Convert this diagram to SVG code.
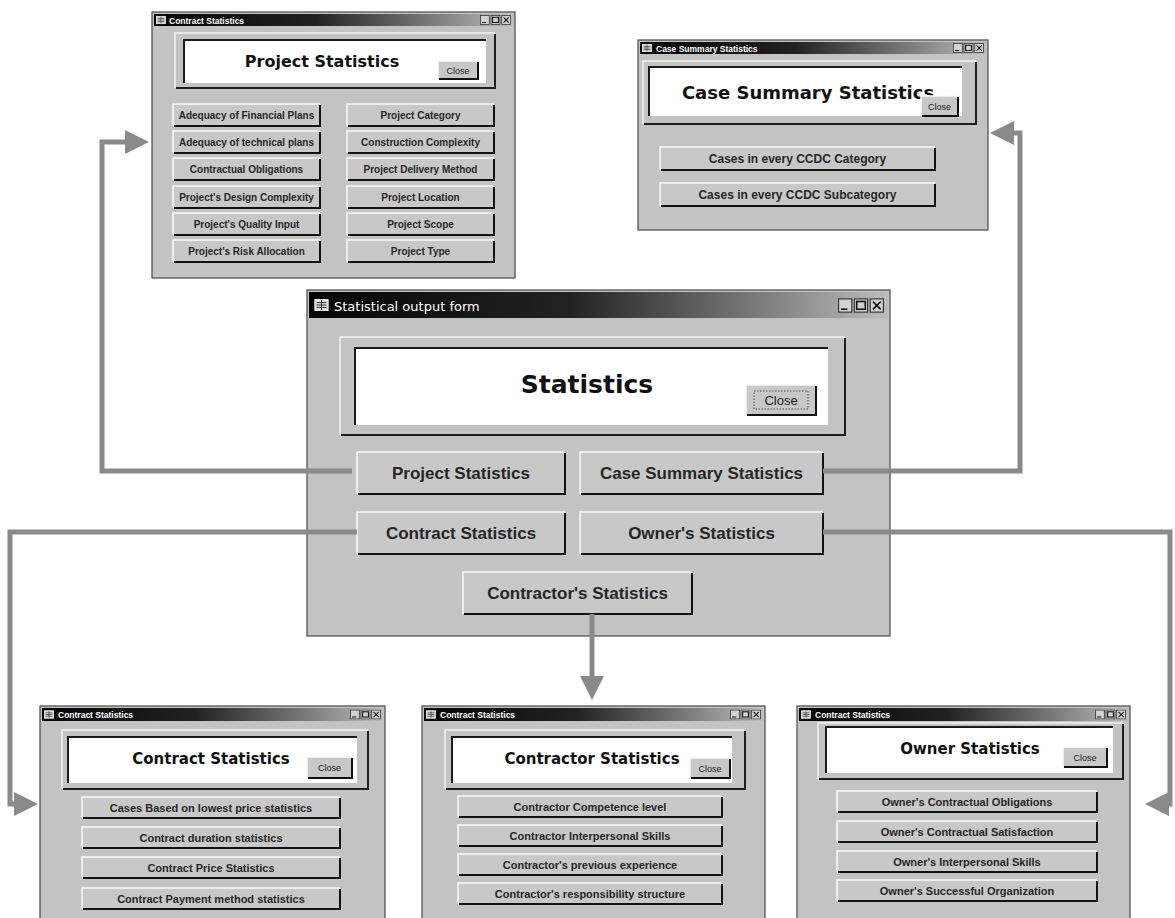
<svg xmlns="http://www.w3.org/2000/svg" xmlns:xlink="http://www.w3.org/1999/xlink" width="1175" height="918" viewBox="0 0 1175 918">
  <defs>
    <linearGradient id="tg" x1="0" y1="0" x2="1" y2="0">
      <stop offset="0" stop-color="#050505"/>
      <stop offset="0.45" stop-color="#222"/>
      <stop offset="0.78" stop-color="#7c7c7c"/>
      <stop offset="1" stop-color="#bcbcbc"/>
    </linearGradient>
    <marker id="ah" markerUnits="userSpaceOnUse" markerWidth="24" markerHeight="24" viewBox="0 0 24 24" refX="0" refY="12" orient="auto">
      <path d="M0,0 L24,12 L0,24 Z" fill="#8a8a8a"/>
    </marker>
    <!-- minimise / maximise / close boxes of a title bar -->
    <symbol id="ctls" viewBox="0 0 32 10">
      <rect class="ctl" x="0.4" y="0.4" width="9.2" height="9.2"/>
      <path class="cg" d="M2,7.6 H6.5"/>
      <rect class="ctl" x="11.4" y="0.4" width="9.2" height="9.2"/>
      <rect class="cg" x="13" y="2.2" width="6" height="5.4"/>
      <rect class="ctl" x="22.4" y="0.4" width="9.2" height="9.2"/>
      <path class="cg" d="M24.3,2.3 L29.7,7.7 M29.7,2.3 L24.3,7.7"/>
    </symbol>
    <!-- form icon at the left of a title bar -->
    <symbol id="ico" viewBox="0 0 12 10">
      <rect x="0.5" y="0.5" width="11" height="9" fill="#d8d8d8" stroke="#fff" stroke-width="0.8"/>
      <path d="M2,3 H10 M2,5 H10 M2,7 H10 M6,1 V9" stroke="#333" stroke-width="0.8"/>
    </symbol>
  </defs>
  <style>
    .body{fill:#c3c3c3;stroke:#4a4a4a;stroke-width:1.2}
    .tbar{fill:url(#tg)}
    .ttl{font-family:"Liberation Sans",Arial,sans-serif;font-weight:bold;fill:#fff}
    .ttlc{font-family:"DejaVu Sans",Verdana,sans-serif;fill:#fff}
    .ctl{fill:#d2d2d2;stroke:#333;stroke-width:0.8}
    .cg{fill:none;stroke:#111;stroke-width:1.1}
    .fhl{fill:none;stroke:#f3f3f3;stroke-width:1.5}
    .fsh{fill:none;stroke:#1e1e1e;stroke-width:2}
    .hdr{fill:#fff}
    .hsh{fill:none;stroke:#1a1a1a;stroke-width:2}
    .htxt{font-family:"DejaVu Sans",Verdana,sans-serif;font-weight:bold;fill:#111;text-anchor:middle}
    .bf{fill:#c8c8c8}
    .bhl{fill:none;stroke:#fafafa;stroke-width:1.5}
    .bsh{fill:none;stroke:#111;stroke-width:2}
    .bl{font-family:"Liberation Sans",Arial,sans-serif;font-weight:bold;fill:#262626;text-anchor:middle}
    .cl{font-family:"Liberation Sans",Arial,sans-serif;fill:#222;text-anchor:middle}
    .focus{fill:none;stroke:#333;stroke-width:0.8;stroke-dasharray:1.5 1.5}
    .conn{fill:none;stroke:#8a8a8a;stroke-width:5;stroke-linejoin:miter;marker-end:url(#ah)}
  </style>

  <rect x="0" y="0" width="1175" height="918" fill="#fff"/>

  <!-- main statistics form -->
  <g id="statistical-output-form">
    <rect class="body" x="307" y="290" width="583" height="346"/>
    <rect class="tbar" x="309" y="292" width="579" height="26"/>
    <use href="#ico" x="314" y="299" width="15" height="12"/>
    <text class="ttlc" x="334" y="311" font-size="13">Statistical output form</text>
    <use href="#ctls" x="838" y="298" width="46" height="15"/>
    <g transform="translate(340,337)">
      <path class="fhl" d="M0,98 V0 H505"/>
      <path class="fsh" d="M1,98 H505 V1"/>
      <rect class="hdr" x="15" y="11" width="473" height="77"/>
      <path class="hsh" d="M15,88 V11 H488"/>
    </g>
    <text class="htxt" x="587" y="393" font-size="25">Statistics</text>
    <g transform="translate(746,385)">
      <rect class="bf" width="70" height="30"/>
      <path class="bhl" d="M0,30 V0 H70"/>
      <path class="bsh" d="M1,30 H70 V1"/>
      <rect class="focus" x="8" y="6" width="54" height="18"/>
      <text class="cl" x="35" y="20" font-size="13">Close</text>
    </g>
    <g transform="translate(357,452)">
      <rect class="bf" width="208" height="42"/>
      <path class="bhl" d="M0,42 V0 H208"/>
      <path class="bsh" d="M1,42 H208 V1"/>
      <text class="bl" x="104" y="27" font-size="17">Project Statistics</text>
    </g>
    <g transform="translate(580,452)">
      <rect class="bf" width="243" height="42"/>
      <path class="bhl" d="M0,42 V0 H243"/>
      <path class="bsh" d="M1,42 H243 V1"/>
      <text class="bl" x="121.5" y="27" font-size="17">Case Summary Statistics</text>
    </g>
    <g transform="translate(357,512)">
      <rect class="bf" width="208" height="42"/>
      <path class="bhl" d="M0,42 V0 H208"/>
      <path class="bsh" d="M1,42 H208 V1"/>
      <text class="bl" x="104" y="27" font-size="17">Contract Statistics</text>
    </g>
    <g transform="translate(580,512)">
      <rect class="bf" width="243" height="42"/>
      <path class="bhl" d="M0,42 V0 H243"/>
      <path class="bsh" d="M1,42 H243 V1"/>
      <text class="bl" x="121.5" y="27" font-size="17">Owner's Statistics</text>
    </g>
    <g transform="translate(463,572)">
      <rect class="bf" width="229" height="42"/>
      <path class="bhl" d="M0,42 V0 H229"/>
      <path class="bsh" d="M1,42 H229 V1"/>
      <text class="bl" x="114.5" y="27" font-size="17">Contractor's Statistics</text>
    </g>
  </g>

  <!-- project statistics form -->
  <g id="project-statistics">
    <rect class="body" x="152" y="12" width="363" height="266"/>
    <rect class="tbar" x="154" y="14" width="359" height="12"/>
    <use href="#ico" x="156" y="15.5" width="10" height="9"/>
    <text class="ttl" x="169" y="23.5" font-size="8.5">Contract Statistics</text>
    <use href="#ctls" x="480" y="15" width="31" height="10"/>
    <g transform="translate(175,33)">
      <path class="fhl" d="M0,55 V0 H320"/>
      <path class="fsh" d="M1,55 H320 V1"/>
      <rect class="hdr" x="9" y="7" width="302" height="43"/>
      <path class="hsh" d="M9,50 V7 H311"/>
    </g>
    <text class="htxt" x="322" y="67" font-size="16">Project Statistics</text>
    <g transform="translate(438,61)">
      <rect class="bf" width="40" height="18"/>
      <path class="bhl" d="M0,18 V0 H40"/>
      <path class="bsh" d="M1,18 H40 V1"/>
      <text class="cl" x="20" y="12.5" font-size="9">Close</text>
    </g>
    <g transform="translate(173,104)">
      <rect class="bf" width="147" height="22"/>
      <path class="bhl" d="M0,22 V0 H147"/>
      <path class="bsh" d="M1,22 H147 V1"/>
      <text class="bl" x="73.5" y="15" font-size="10">Adequacy of Financial Plans</text>
    </g>
    <g transform="translate(173,131)">
      <rect class="bf" width="147" height="22"/>
      <path class="bhl" d="M0,22 V0 H147"/>
      <path class="bsh" d="M1,22 H147 V1"/>
      <text class="bl" x="73.5" y="15" font-size="10">Adequacy of technical plans</text>
    </g>
    <g transform="translate(173,158)">
      <rect class="bf" width="147" height="22"/>
      <path class="bhl" d="M0,22 V0 H147"/>
      <path class="bsh" d="M1,22 H147 V1"/>
      <text class="bl" x="73.5" y="15" font-size="10">Contractual Obligations</text>
    </g>
    <g transform="translate(173,186)">
      <rect class="bf" width="147" height="22"/>
      <path class="bhl" d="M0,22 V0 H147"/>
      <path class="bsh" d="M1,22 H147 V1"/>
      <text class="bl" x="73.5" y="15" font-size="10">Project's Design Complexity</text>
    </g>
    <g transform="translate(173,213)">
      <rect class="bf" width="147" height="22"/>
      <path class="bhl" d="M0,22 V0 H147"/>
      <path class="bsh" d="M1,22 H147 V1"/>
      <text class="bl" x="73.5" y="15" font-size="10">Project's Quality Input</text>
    </g>
    <g transform="translate(173,240)">
      <rect class="bf" width="147" height="22"/>
      <path class="bhl" d="M0,22 V0 H147"/>
      <path class="bsh" d="M1,22 H147 V1"/>
      <text class="bl" x="73.5" y="15" font-size="10">Project's Risk Allocation</text>
    </g>
    <g transform="translate(347,104)">
      <rect class="bf" width="147" height="22"/>
      <path class="bhl" d="M0,22 V0 H147"/>
      <path class="bsh" d="M1,22 H147 V1"/>
      <text class="bl" x="73.5" y="15" font-size="10">Project Category</text>
    </g>
    <g transform="translate(347,131)">
      <rect class="bf" width="147" height="22"/>
      <path class="bhl" d="M0,22 V0 H147"/>
      <path class="bsh" d="M1,22 H147 V1"/>
      <text class="bl" x="73.5" y="15" font-size="10">Construction Complexity</text>
    </g>
    <g transform="translate(347,158)">
      <rect class="bf" width="147" height="22"/>
      <path class="bhl" d="M0,22 V0 H147"/>
      <path class="bsh" d="M1,22 H147 V1"/>
      <text class="bl" x="73.5" y="15" font-size="10">Project Delivery Method</text>
    </g>
    <g transform="translate(347,186)">
      <rect class="bf" width="147" height="22"/>
      <path class="bhl" d="M0,22 V0 H147"/>
      <path class="bsh" d="M1,22 H147 V1"/>
      <text class="bl" x="73.5" y="15" font-size="10">Project Location</text>
    </g>
    <g transform="translate(347,213)">
      <rect class="bf" width="147" height="22"/>
      <path class="bhl" d="M0,22 V0 H147"/>
      <path class="bsh" d="M1,22 H147 V1"/>
      <text class="bl" x="73.5" y="15" font-size="10">Project Scope</text>
    </g>
    <g transform="translate(347,240)">
      <rect class="bf" width="147" height="22"/>
      <path class="bhl" d="M0,22 V0 H147"/>
      <path class="bsh" d="M1,22 H147 V1"/>
      <text class="bl" x="73.5" y="15" font-size="10">Project Type</text>
    </g>
  </g>

  <!-- case summary statistics form -->
  <g id="case-summary-statistics">
    <rect class="body" x="638" y="40" width="350" height="190"/>
    <rect class="tbar" x="640" y="42" width="346" height="12"/>
    <use href="#ico" x="642" y="43.5" width="10" height="9"/>
    <text class="ttl" x="656" y="51.5" font-size="8.5">Case Summary Statistics</text>
    <use href="#ctls" x="953" y="43" width="31" height="10"/>
    <g transform="translate(643,61)">
      <path class="fhl" d="M0,63 V0 H333"/>
      <path class="fsh" d="M1,63 H333 V1"/>
      <rect class="hdr" x="6" y="6" width="313" height="49"/>
      <path class="hsh" d="M6,55 V6 H319"/>
    </g>
    <text class="htxt" x="808" y="99" font-size="18">Case Summary Statistics</text>
    <g transform="translate(921,96)">
      <rect class="bf" width="37" height="20"/>
      <path class="bhl" d="M0,20 V0 H37"/>
      <path class="bsh" d="M1,20 H37 V1"/>
      <text class="cl" x="18.5" y="13.5" font-size="9">Close</text>
    </g>
    <g transform="translate(660,147)">
      <rect class="bf" width="275" height="23"/>
      <path class="bhl" d="M0,23 V0 H275"/>
      <path class="bsh" d="M1,23 H275 V1"/>
      <text class="bl" x="137.5" y="16" font-size="12">Cases in every CCDC Category</text>
    </g>
    <g transform="translate(660,183)">
      <rect class="bf" width="275" height="23"/>
      <path class="bhl" d="M0,23 V0 H275"/>
      <path class="bsh" d="M1,23 H275 V1"/>
      <text class="bl" x="137.5" y="16" font-size="12">Cases in every CCDC Subcategory</text>
    </g>
  </g>

  <!-- contract statistics form -->
  <g id="contract-statistics">
    <rect class="body" x="40" y="706" width="345" height="230"/>
    <rect class="tbar" x="42" y="708" width="341" height="13"/>
    <use href="#ico" x="44" y="710" width="10" height="9"/>
    <text class="ttl" x="58" y="718" font-size="8.5">Contract Statistics</text>
    <use href="#ctls" x="350" y="709.5" width="31" height="10"/>
    <g transform="translate(62,730)">
      <path class="fhl" d="M0,59 V0 H306"/>
      <path class="fsh" d="M1,59 H306 V1"/>
      <rect class="hdr" x="6" y="7" width="289" height="46"/>
      <path class="hsh" d="M6,53 V7 H295"/>
    </g>
    <text class="htxt" x="211" y="764" font-size="15">Contract Statistics</text>
    <g transform="translate(307,757)">
      <rect class="bf" width="45" height="21"/>
      <path class="bhl" d="M0,21 V0 H45"/>
      <path class="bsh" d="M1,21 H45 V1"/>
      <text class="cl" x="22.5" y="14" font-size="9">Close</text>
    </g>
    <g transform="translate(82,797)">
      <rect class="bf" width="258" height="21"/>
      <path class="bhl" d="M0,21 V0 H258"/>
      <path class="bsh" d="M1,21 H258 V1"/>
      <text class="bl" x="129" y="15" font-size="11">Cases Based on lowest price statistics</text>
    </g>
    <g transform="translate(82,827)">
      <rect class="bf" width="258" height="21"/>
      <path class="bhl" d="M0,21 V0 H258"/>
      <path class="bsh" d="M1,21 H258 V1"/>
      <text class="bl" x="129" y="15" font-size="11">Contract duration statistics</text>
    </g>
    <g transform="translate(82,857)">
      <rect class="bf" width="258" height="21"/>
      <path class="bhl" d="M0,21 V0 H258"/>
      <path class="bsh" d="M1,21 H258 V1"/>
      <text class="bl" x="129" y="15" font-size="11">Contract Price Statistics</text>
    </g>
    <g transform="translate(82,888)">
      <rect class="bf" width="258" height="21"/>
      <path class="bhl" d="M0,21 V0 H258"/>
      <path class="bsh" d="M1,21 H258 V1"/>
      <text class="bl" x="129" y="15" font-size="11">Contract Payment method statistics</text>
    </g>
  </g>

  <!-- contractor statistics form -->
  <g id="contractor-statistics">
    <rect class="body" x="422" y="706" width="343" height="230"/>
    <rect class="tbar" x="424" y="708" width="339" height="13"/>
    <use href="#ico" x="426" y="710" width="10" height="9"/>
    <text class="ttl" x="440" y="718" font-size="8.5">Contract Statistics</text>
    <use href="#ctls" x="730" y="709.5" width="31" height="10"/>
    <g transform="translate(445,730)">
      <path class="fhl" d="M0,59 V0 H300"/>
      <path class="fsh" d="M1,59 H300 V1"/>
      <rect class="hdr" x="7" y="7" width="280" height="46"/>
      <path class="hsh" d="M7,53 V7 H287"/>
    </g>
    <text class="htxt" x="592" y="764" font-size="15">Contractor Statistics</text>
    <g transform="translate(690,758)">
      <rect class="bf" width="40" height="20"/>
      <path class="bhl" d="M0,20 V0 H40"/>
      <path class="bsh" d="M1,20 H40 V1"/>
      <text class="cl" x="20" y="13.5" font-size="9">Close</text>
    </g>
    <g transform="translate(458,796)">
      <rect class="bf" width="264" height="21"/>
      <path class="bhl" d="M0,21 V0 H264"/>
      <path class="bsh" d="M1,21 H264 V1"/>
      <text class="bl" x="132" y="15" font-size="11">Contractor Competence level</text>
    </g>
    <g transform="translate(458,825)">
      <rect class="bf" width="264" height="21"/>
      <path class="bhl" d="M0,21 V0 H264"/>
      <path class="bsh" d="M1,21 H264 V1"/>
      <text class="bl" x="132" y="15" font-size="11">Contractor Interpersonal Skills</text>
    </g>
    <g transform="translate(458,854)">
      <rect class="bf" width="264" height="21"/>
      <path class="bhl" d="M0,21 V0 H264"/>
      <path class="bsh" d="M1,21 H264 V1"/>
      <text class="bl" x="132" y="15" font-size="11">Contractor's previous experience</text>
    </g>
    <g transform="translate(458,883)">
      <rect class="bf" width="264" height="21"/>
      <path class="bhl" d="M0,21 V0 H264"/>
      <path class="bsh" d="M1,21 H264 V1"/>
      <text class="bl" x="132" y="15" font-size="11">Contractor's responsibility structure</text>
    </g>
  </g>

  <!-- owner statistics form -->
  <g id="owner-statistics">
    <rect class="body" x="797" y="706" width="333" height="230"/>
    <rect class="tbar" x="799" y="708" width="329" height="13"/>
    <use href="#ico" x="801" y="710" width="10" height="9"/>
    <text class="ttl" x="815" y="718" font-size="8.5">Contract Statistics</text>
    <use href="#ctls" x="1095" y="709.5" width="31" height="10"/>
    <g transform="translate(818,723)">
      <path class="fhl" d="M0,56 V0 H305"/>
      <path class="fsh" d="M1,56 H305 V1"/>
      <rect class="hdr" x="8" y="4" width="287" height="46"/>
      <path class="hsh" d="M8,50 V4 H295"/>
    </g>
    <text class="htxt" x="970" y="754" font-size="15">Owner Statistics</text>
    <g transform="translate(1063,747)">
      <rect class="bf" width="44" height="20"/>
      <path class="bhl" d="M0,20 V0 H44"/>
      <path class="bsh" d="M1,20 H44 V1"/>
      <text class="cl" x="22" y="13.5" font-size="9">Close</text>
    </g>
    <g transform="translate(837,791)">
      <rect class="bf" width="260" height="21"/>
      <path class="bhl" d="M0,21 V0 H260"/>
      <path class="bsh" d="M1,21 H260 V1"/>
      <text class="bl" x="130" y="15" font-size="11">Owner's Contractual Obligations</text>
    </g>
    <g transform="translate(837,821)">
      <rect class="bf" width="260" height="21"/>
      <path class="bhl" d="M0,21 V0 H260"/>
      <path class="bsh" d="M1,21 H260 V1"/>
      <text class="bl" x="130" y="15" font-size="11">Owner's Contractual Satisfaction</text>
    </g>
    <g transform="translate(837,851)">
      <rect class="bf" width="260" height="21"/>
      <path class="bhl" d="M0,21 V0 H260"/>
      <path class="bsh" d="M1,21 H260 V1"/>
      <text class="bl" x="130" y="15" font-size="11">Owner's Interpersonal Skills</text>
    </g>
    <g transform="translate(837,880)">
      <rect class="bf" width="260" height="21"/>
      <path class="bhl" d="M0,21 V0 H260"/>
      <path class="bsh" d="M1,21 H260 V1"/>
      <text class="bl" x="130" y="15" font-size="11">Owner's Successful Organization</text>
    </g>
  </g>

  <!-- links from the main form buttons to the forms they open -->
  <g id="connectors">
    <path class="conn" d="M352,471 H102 V142 H125"/>
    <path class="conn" d="M823,471 H1020 V133 H1014"/>
    <path class="conn" d="M357,532 H10 V804 H14"/>
    <path class="conn" d="M823,532 H1170 V804 H1169"/>
    <path class="conn" d="M592,614 V676"/>
  </g>
</svg>
